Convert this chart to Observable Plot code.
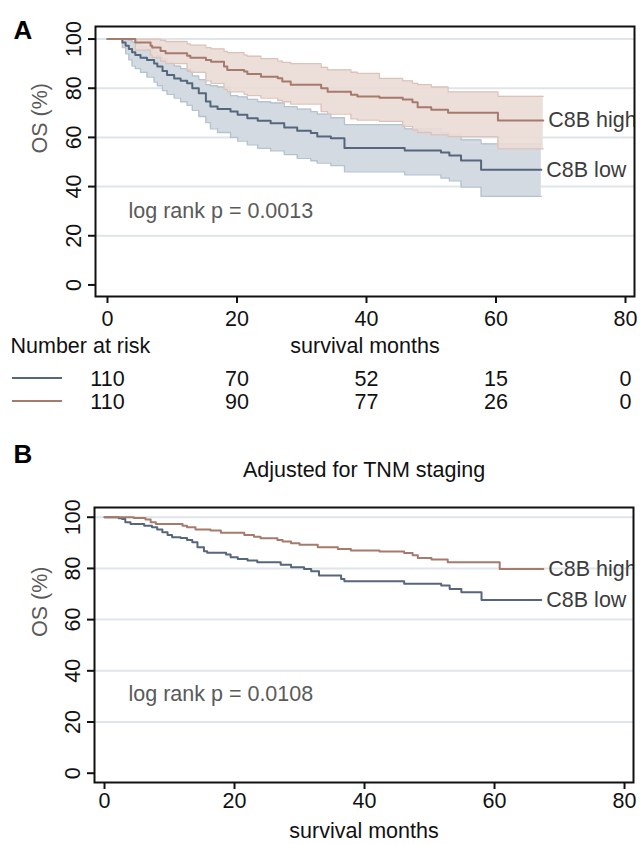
<!DOCTYPE html>
<html><head><meta charset="utf-8">
<script src="https://cdn.jsdelivr.net/npm/d3@7"></script>
<script src="https://cdn.jsdelivr.net/npm/@observablehq/plot@0.6"></script>
<style>
body{margin:0;background:#fff;}
#wrap{position:relative;width:640px;height:844px;font-family:"Liberation Sans",Arial,sans-serif;overflow:hidden;}
.abs{position:absolute;}
.sw{position:absolute;left:12px;width:50px;height:0;}
</style></head><body><div id="wrap"></div>
<script>
// ---------- data ----------
const xTicks = [0, 20, 40, 60, 80];
const yTicks = [0, 20, 40, 60, 80, 100];
const gridTicks = [20, 40, 60, 80, 100];
const groupLabels = ["C8B low", "C8B high"];

// Panel A: KM with 95% CI
const lowA_t  = [0, 2.3, 2.8, 3.3, 3.8, 4.3, 5.1, 6.1, 7.2, 7.7, 8.5, 9.2, 10.3, 11.3, 12.3, 13.1, 14.1, 15.2, 15.9, 17.0, 19.0, 20.1, 21.6, 23.2, 25.2, 27.3, 29.3, 31.4, 32.4, 34.5, 36.6, 45.9, 51.5, 52.8, 54.6, 57.7, 67.0];
const lowA_s  = [100, 98.6, 97.3, 95.9, 94.6, 93.5, 92.4, 91.5, 90.1, 88.8, 87.0, 85.4, 84.0, 83.0, 82.0, 80.0, 78.0, 74.6, 72.6, 71.6, 70.5, 69.2, 67.8, 66.8, 65.8, 64.0, 62.7, 61.8, 60.4, 59.7, 55.7, 54.7, 53.9, 52.6, 50.6, 46.8, 46.8];
const lowA_lo = [100, 96.5, 94, 91.5, 89, 88, 86.5, 84.5, 82.5, 81, 79, 77.5, 76, 74.5, 73, 71, 68.5, 66, 63.5, 62, 60, 58.5, 57, 55.5, 54.5, 53, 51.5, 50.5, 49.5, 48.5, 46, 44.8, 43.5, 42.3, 39.8, 36, 36];
const lowA_hi = [100, 100, 99.8, 99.5, 98.8, 98, 97, 96, 94.5, 93.5, 92, 90.5, 89, 88, 87, 85, 83.5, 81.5, 81, 80.5, 77, 76.5, 75.5, 74.5, 74, 72.5, 71.5, 70.5, 69.5, 68, 65.2, 63.5, 62, 61, 59, 57.4, 57.4];

const highA_t  = [0, 4.3, 6.65, 6.9, 8.2, 8.97, 12.3, 12.8, 15.2, 16.0, 18.0, 18.5, 21.1, 21.6, 23.7, 26.3, 27.0, 28.3, 33.0, 34.0, 37.6, 38.6, 42.0, 45.6, 47.1, 47.9, 50.0, 52.6, 60.3, 67.3];
const highA_s  = [100, 98.6, 97.3, 96.6, 95.1, 94.2, 93.2, 92.4, 91.5, 90.8, 88.8, 87.4, 86.8, 85.8, 84.7, 84.1, 82.7, 81.4, 80.0, 78.6, 77.3, 76.6, 76.1, 75.4, 74.3, 72.3, 71.2, 70.0, 66.9, 66.9];
const highA_lo = [100, 95.5, 93.5, 92.5, 91, 90, 87.5, 86.5, 83, 82, 79.5, 78.5, 77.5, 77, 76, 75, 74.5, 73.5, 70.5, 69.5, 67.5, 67, 66.5, 64.5, 63, 62, 61, 60.3, 55.3, 55.3];
const highA_hi = [100, 100, 100, 100, 99.5, 99, 98, 97.5, 96.5, 96, 95, 94.5, 93.5, 93, 92, 91, 90.5, 90, 88.5, 87.5, 86.5, 86, 84, 83, 82, 81.5, 80.5, 78.5, 76.7, 76.7];

const riskLow  = [110, 70, 52, 15, 0];
const riskHigh = [110, 90, 77, 26, 0];

// Panel B: adjusted for TNM staging
const lowB_t = [0, 2.2, 2.7, 3.2, 4.0, 6.1, 7.3, 8.1, 8.9, 9.7, 10.4, 11.7, 12.7, 13.5, 14.3, 15.3, 15.8, 18.7, 19.4, 20.5, 22.0, 23.5, 27.1, 28.7, 30.7, 31.8, 33.0, 36.4, 36.9, 46.1, 51.8, 53.1, 54.9, 58.0, 67.2];
const lowB_s = [100, 99.6, 99.3, 98.0, 97.4, 96.7, 96.1, 95.2, 94.1, 93.1, 92.2, 91.9, 91.1, 90.2, 88.3, 86.7, 86.1, 85.4, 84.4, 83.7, 83.1, 82.4, 81.4, 80.5, 79.8, 78.9, 77.2, 75.9, 75.0, 74.0, 73.3, 72.0, 70.7, 67.7, 67.7];
const highB_t = [0, 4.5, 6.3, 7.1, 7.9, 12.0, 12.7, 14.0, 16.3, 17.9, 21.5, 23.0, 24.0, 26.6, 27.4, 28.7, 30.0, 32.8, 35.9, 37.9, 42.3, 46.1, 47.4, 48.2, 50.3, 52.8, 60.8, 67.5];
const highB_s = [100, 99.7, 99.1, 98.0, 97.4, 96.7, 96.1, 95.2, 94.8, 93.9, 93.1, 92.4, 91.8, 91.1, 90.5, 89.8, 89.2, 88.3, 87.6, 87.0, 86.6, 86.0, 85.1, 84.1, 83.5, 82.4, 79.8, 79.8];

// ---------- styling ----------
const FF = '"Liberation Sans", Arial, Helvetica, sans-serif';
const FS = 21.5;
const TXT = "#111";
const GREY = "#5a5a5a";
const LABEL = "#3c3c3c";
const GRID = "#dfe5ea";
const LOW = "#56667c", HIGH = "#a67a6d";
const LOW_FILL = "#d3dae2", LOW_EDGE = "#b5c2cf";
const HIGH_FILL = "#eadbd6", HIGH_EDGE = "#dcc3ba";

function rows(t, cols) {
  return t.map((ti, i) => { const o = {t: ti}; for (const k in cols) o[k] = cols[k][i]; return o; });
}
const last = a => a[a.length - 1];

const lowA = rows(lowA_t, {s: lowA_s, lo: lowA_lo, hi: lowA_hi});
const highA = rows(highA_t, {s: highA_s, lo: highA_lo, hi: highA_hi});
const lowB = rows(lowB_t, {s: lowB_s});
const highB = rows(highB_t, {s: highB_s});
const riskRows = rows(xTicks, {low: riskLow, high: riskHigh});

const endA = [
  {t: last(lowA_t), s: last(lowA_s), label: groupLabels[0]},
  {t: last(highA_t), s: last(highA_s), label: groupLabels[1]}
];
const endB = [
  {t: last(lowB_t), s: last(lowB_s), label: groupLabels[0]},
  {t: last(highB_t), s: last(highB_s), label: groupLabels[1]}
];

function commonMarks(tickPadding, xLabelDy) {
  return [
    Plot.frame({stroke: TXT, strokeWidth: 2}),
    Plot.axisX(xTicks, {tickSize: 7, tickPadding, strokeWidth: 2, fontSize: FS, label: null}),
    Plot.axisY(yTicks, {tickSize: 7, strokeWidth: 2, tickFormat: () => "", label: null}),
    Plot.text(yTicks, {y: d => d, text: d => String(d), frameAnchor: "left", rotate: -90, dx: -15,
      lineAnchor: "bottom", textAnchor: "middle", fill: TXT, fontSize: FS}),
    Plot.text(["survival months"], {frameAnchor: "bottom", dy: xLabelDy, lineAnchor: "bottom", fill: TXT, fontSize: FS}),
  ];
}

const style = {fontFamily: FF, fontSize: FS + "px", color: TXT, background: "white", overflow: "visible"};

// ---------- Panel A ----------
const plotA = Plot.plot({
  width: 640, height: 420,
  marginTop: 26, marginBottom: 124, marginLeft: 95, marginRight: 6,
  style,
  x: {domain: [-1.85, 81.39]},
  y: {domain: [-4.7, 105.1]},
  marks: [
    Plot.gridY(gridTicks, {stroke: GRID, strokeOpacity: 1, strokeWidth: 2}),
    Plot.areaY(lowA, {x: "t", y1: "lo", y2: "hi", curve: "step-after", fill: LOW_FILL}),
    Plot.line(lowA, {x: "t", y: "lo", curve: "step-after", stroke: LOW_EDGE, strokeWidth: 1.3}),
    Plot.line(lowA, {x: "t", y: "hi", curve: "step-after", stroke: LOW_EDGE, strokeWidth: 1.3}),
    Plot.areaY(highA, {x: "t", y1: "lo", y2: "hi", curve: "step-after", fill: HIGH_FILL, fillOpacity: 0.92}),
    Plot.line(highA, {x: "t", y: "lo", curve: "step-after", stroke: HIGH_EDGE, strokeWidth: 1.3}),
    Plot.line(highA, {x: "t", y: "hi", curve: "step-after", stroke: HIGH_EDGE, strokeWidth: 1.3}),
    Plot.line(lowA, {x: "t", y: "s", curve: "step-after", stroke: LOW, strokeWidth: 2}),
    Plot.line(highA, {x: "t", y: "s", curve: "step-after", stroke: HIGH, strokeWidth: 2}),
    Plot.text(endA, {x: "t", y: "s", text: "label", textAnchor: "start", dx: 5, fill: LABEL, fontSize: FS, clip: true}),
    Plot.text(["log rank p = 0.0013"], {frameAnchor: "bottom-left", dx: 33, dy: -79, lineAnchor: "bottom", textAnchor: "start", fill: GREY, fontSize: FS}),
    ...commonMarks(7, 56),
    Plot.text(["OS (%)"], {frameAnchor: "left", rotate: -90, dx: -55, dy: -8, fill: GREY, fontSize: FS}),
    Plot.text(["Number at risk"], {frameAnchor: "bottom-left", dx: -85, dy: 56, lineAnchor: "bottom", textAnchor: "start", fill: TXT, fontSize: FS}),
    Plot.text(riskRows, {x: "t", text: d => String(d.low), frameAnchor: "bottom", dy: 89, lineAnchor: "bottom", fill: TXT, fontSize: FS}),
    Plot.text(riskRows, {x: "t", text: d => String(d.high), frameAnchor: "bottom", dy: 112, lineAnchor: "bottom", fill: TXT, fontSize: FS}),
    Plot.text(["A"], {frameAnchor: "top-left", dx: -82, dy: 12.5, lineAnchor: "bottom", textAnchor: "start", fontWeight: "bold", fontSize: 26, fill: "#000"})
  ]
});

// ---------- Panel B ----------
const plotB = Plot.plot({
  width: 640, height: 354,
  marginTop: 17, marginBottom: 62, marginLeft: 94, marginRight: 7,
  style,
  x: {domain: [-1.54, 81.38]},
  y: {domain: [-3.63, 103.8]},
  marks: [
    Plot.gridY(gridTicks, {stroke: GRID, strokeOpacity: 1, strokeWidth: 2}),
    Plot.line(lowB, {x: "t", y: "s", curve: "step-after", stroke: LOW, strokeWidth: 2}),
    Plot.line(highB, {x: "t", y: "s", curve: "step-after", stroke: HIGH, strokeWidth: 2}),
    Plot.text(endB, {x: "t", y: "s", text: "label", textAnchor: "start", dx: 5, fill: LABEL, fontSize: FS, clip: true}),
    Plot.text(["log rank p = 0.0108"], {frameAnchor: "bottom-left", dx: 34, dy: -82, lineAnchor: "bottom", textAnchor: "start", fill: GREY, fontSize: FS}),
    ...commonMarks(3, 55),
    Plot.text(["OS (%)"], {frameAnchor: "left", rotate: -90, dx: -54, dy: -8, fill: GREY, fontSize: FS}),
    Plot.text(["Adjusted for TNM staging"], {frameAnchor: "top", dy: -31, lineAnchor: "bottom", fill: TXT, fontSize: FS}),
    Plot.text(["B"], {frameAnchor: "top-left", dx: -81, dy: -45, lineAnchor: "bottom", textAnchor: "start", fontWeight: "bold", fontSize: 26, fill: "#000"})
  ]
});

const wrap = document.getElementById("wrap");
plotA.style.position = "absolute"; plotA.style.left = "0px"; plotA.style.top = "0px";
plotB.style.position = "absolute"; plotB.style.left = "0px"; plotB.style.top = "490px";
wrap.appendChild(plotA);
wrap.appendChild(plotB);

// number-at-risk legend swatches
[[LOW, 378], [HIGH, 401]].forEach(([c, y]) => {
  const d = document.createElement("div");
  d.className = "sw";
  d.style.top = (y - 1) + "px";
  d.style.borderTop = "2px solid " + c;
  wrap.appendChild(d);
});
</script></body></html>
